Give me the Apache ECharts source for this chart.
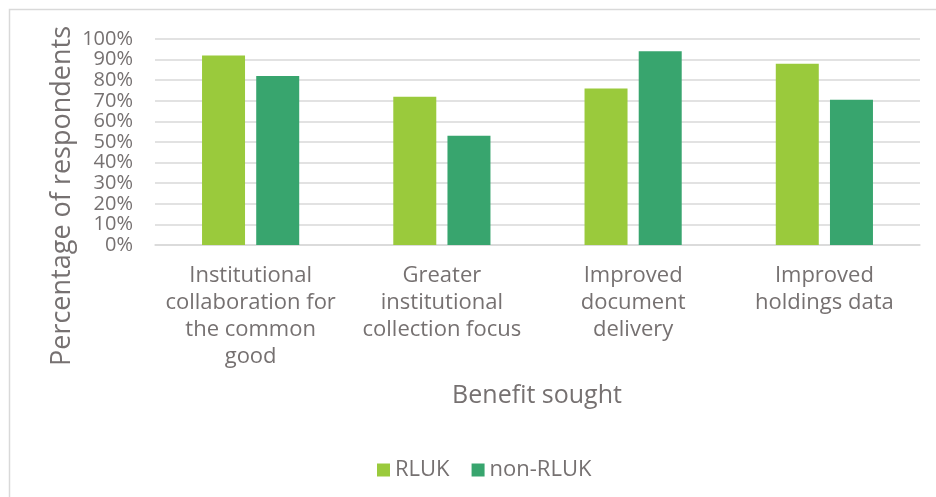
<!DOCTYPE html>
<html>
<head>
<meta charset="utf-8">
<script src="https://cdn.jsdelivr.net/npm/echarts@6/dist/echarts.min.js"></script>
<style>
html,body{margin:0;padding:0;background:#fff;}
#chart{width:936px;height:497px;}
</style>
</head>
<body>
<div id="chart"></div>
<script>
const categories = [
  "Institutional\ncollaboration for\nthe common\ngood",
  "Greater\ninstitutional\ncollection focus",
  "Improved\ndocument\ndelivery",
  "Improved\nholdings data"
];
const rluk = [92, 72, 76, 88];
const nonRluk = [82, 53, 94, 70.5];
const yTicks = [0, 10, 20, 30, 40, 50, 60, 70, 80, 90, 100];

const FONT = "'Open Sans', sans-serif";
const TXT = "#767171";

const chart = echarts.init(document.getElementById('chart'));
chart.setOption({
  animation: false,
  backgroundColor: '#fff',
  textStyle: { fontFamily: FONT, color: TXT },
  graphic: [
    { type: 'rect', shape: { x: 9.5, y: 9.5, width: 940, height: 500 },
      style: { fill: 'none', stroke: '#d9d9d9', lineWidth: 1.5 }, silent: true },
    { type: 'text', x: 62, y: 196, rotation: Math.PI / 2,
      style: { text: 'Percentage of respondents', font: "27px 'Open Sans', sans-serif",
               fill: TXT, align: 'center', verticalAlign: 'middle' } },
    { type: 'text', x: 537, y: 396,
      style: { text: 'Benefit sought', font: "25px 'Open Sans', sans-serif",
               fill: TXT, align: 'center', verticalAlign: 'middle' } }
  ],
  grid: { left: 155, right: 16, top: 39, bottom: 252 },
  legend: {
    left: 372, top: 454,
    itemWidth: 13, itemHeight: 13, itemGap: 22,
    icon: 'rect',
    textStyle: { fontFamily: FONT, fontSize: 22, color: TXT },
    data: ['RLUK', 'non-RLUK']
  },
  xAxis: {
    type: 'category',
    data: categories,
    axisLine: { show: true, lineStyle: { color: '#d9d9d9', width: 1.5 } },
    axisTick: { show: false },
    axisLabel: { interval: 0, fontFamily: FONT, fontSize: 22, color: TXT, lineHeight: 27, margin: 17, align: 'center' }
  },
  yAxis: {
    type: 'value',
    min: yTicks[0], max: yTicks[yTicks.length - 1], interval: 10,
    axisLine: { show: false },
    axisTick: { show: false },
    splitLine: { lineStyle: { color: '#d9d9d9', width: 1.5 } },
    axisLabel: { fontFamily: FONT, fontSize: 20, color: TXT, margin: 22, formatter: '{value}%' }
  },
  series: [
    { name: 'RLUK', type: 'bar', data: rluk, barWidth: 43, barGap: '26%',
      itemStyle: { color: '#9ACA3C' } },
    { name: 'non-RLUK', type: 'bar', data: nonRluk, barWidth: 43,
      itemStyle: { color: '#38A56E' } }
  ]
});
</script>
</body>
</html>
